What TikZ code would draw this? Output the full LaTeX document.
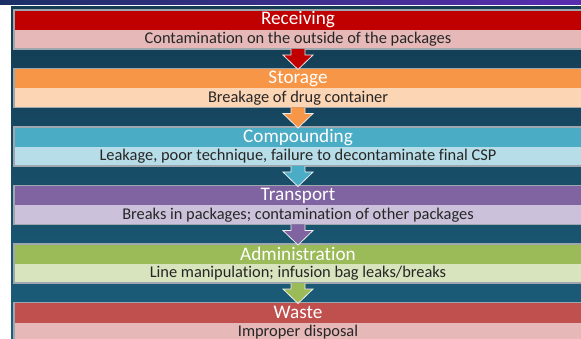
\documentclass[tikz,border=0pt]{standalone}
\usepackage{fontspec}
\setmainfont[Ligatures=NoCommon]{Carlito}
\usetikzlibrary{calc}

\definecolor{bgdark}{HTML}{133B51}
\definecolor{bglight}{HTML}{1C5F7D}
\definecolor{bandA}{HTML}{1B2F66}
\definecolor{bandB}{HTML}{3A4FB8}
\definecolor{bandC}{HTML}{5A2DB0}
\definecolor{frame}{HTML}{9EA7AE}
\definecolor{subtext}{HTML}{262626}

\definecolor{recvH}{HTML}{C00000}
\definecolor{recvS}{HTML}{E6B9B8}
\definecolor{storH}{HTML}{F79646}
\definecolor{storS}{HTML}{FCD5B5}
\definecolor{compH}{HTML}{4BACC6}
\definecolor{compS}{HTML}{B7DEE8}
\definecolor{tranH}{HTML}{8064A2}
\definecolor{tranS}{HTML}{CCC1DA}
\definecolor{admiH}{HTML}{9BBB59}
\definecolor{admiS}{HTML}{D7E4BD}
\definecolor{wastH}{HTML}{C0504D}
\definecolor{wastS}{HTML}{E6B9B8}

\tikzset{
  header/.style={rectangle, anchor=north west, inner sep=0pt, outer sep=0pt,
    minimum width=568pt, minimum height=20pt, text=white, font=\fontsize{19.2}{19.2}\selectfont},
  detail/.style={rectangle, anchor=north, inner sep=0pt, outer sep=0pt,
    minimum width=568pt, minimum height=19pt, text=subtext, font=\fontsize{16.4}{16.4}\selectfont},
  boxframe/.style={draw=frame, line width=1.2pt},
  flowarrow/.style={draw=white!85!gray, line width=0.8pt, line join=miter}
}

\begin{document}
\begin{tikzpicture}[x=1pt,y=-1pt]
\useasboundingbox (0,0) rectangle (581,339);
\fill[white] (0,0) rectangle (581,339);
% title band and dark backdrop
\shade[left color=bandA, middle color=bandB, right color=bandC] (0,0) rectangle (581,5);
\shade[top color=bgdark, bottom color=bglight] (11,7) rectangle (581,339);

% stages
\foreach \n/\y/\hc/\sc/\title/\txt in {
  1/10/recvH/recvS/Receiving/{Contamination on the outside of the packages},
  2/68.5/storH/storS/Storage/{Breakage of drug container},
  3/127/compH/compS/Compounding/{Leakage, poor technique, failure to decontaminate final CSP},
  4/185.5/tranH/tranS/Transport/{Breaks in packages; contamination of other packages},
  5/244/admiH/admiS/Administration/{Line manipulation; infusion bag leaks/breaks},
  6/302.5/wastH/wastS/Waste/{Improper disposal}}{
  \node[header, fill=\hc] (h\n) at (14,\y) {\title};
  \node[detail, fill=\sc] (s\n) at (h\n.south) {\txt};
  \draw[boxframe] (h\n.north west) rectangle (s\n.south east);
}

% down arrows between stages
\foreach \a/\b/\c in {1/2/recvH, 2/3/storH, 3/4/compH, 4/5/tranH, 5/6/admiH}{
  \filldraw[flowarrow, fill=\c]
    ($(s\a.south)+(-7,0)$) -- ($(s\a.south)+(-7,6)$) -- ($(s\a.south)+(-15,6)$)
    -- ($(h\b.north)+(0,1)$)
    -- ($(s\a.south)+(15,6)$) -- ($(s\a.south)+(7,6)$) -- ($(s\a.south)+(7,0)$);
}
\end{tikzpicture}
\end{document}
